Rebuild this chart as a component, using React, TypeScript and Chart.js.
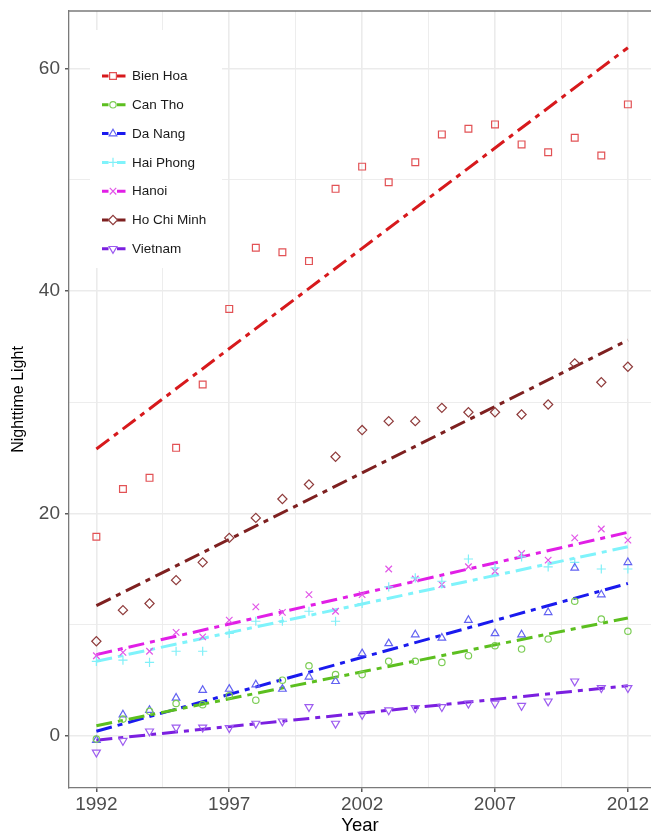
import React, { useEffect, useRef } from 'react';
import { Chart, registerables } from 'chart.js';

Chart.register(...registerables);

// ---------- data ----------
const years = [1992, 1993, 1994, 1995, 1996, 1997, 1998, 1999, 2000, 2001, 2002, 2003, 2004, 2005, 2006, 2007, 2008, 2009, 2010, 2011, 2012];

const bienHoa = [17.9, 22.2, 23.2, 25.9, 31.6, 38.4, 43.9, 43.5, 42.7, 49.2, 51.2, 49.8, 51.6, 54.1, 54.6, 55.0, 53.2, 52.5, 53.8, 52.2, 56.8];
const canTho = [-0.3, 1.5, 2.2, 2.9, 2.8, 3.6, 3.2, 5.0, 6.3, 5.5, 5.5, 6.7, 6.7, 6.6, 7.2, 8.1, 7.8, 8.7, 12.1, 10.5, 9.4];
const daNang = [-0.4, 1.9, 2.3, 3.4, 4.1, 4.2, 4.6, 4.2, 5.3, 4.9, 7.4, 8.3, 9.1, 8.8, 10.4, 9.2, 9.1, 11.1, 15.1, 12.7, 15.6];
const haiPhong = [6.7, 6.8, 6.6, 7.6, 7.6, 9.2, 10.3, 10.3, 11.2, 10.3, 11.9, 13.4, 14.2, 13.9, 15.9, 15.1, 16.1, 15.2, 15.6, 15.0, 15.0];
const hanoi = [7.2, 7.5, 7.6, 9.3, 8.9, 10.4, 11.6, 11.1, 12.7, 11.2, 12.7, 15.0, 14.1, 13.6, 15.2, 14.8, 16.4, 15.8, 17.8, 18.6, 17.6];
const hoChiMinh = [8.5, 11.3, 11.9, 14.0, 15.6, 17.8, 19.6, 21.3, 22.6, 25.1, 27.5, 28.3, 28.3, 29.5, 29.1, 29.1, 28.9, 29.8, 33.5, 31.8, 33.2];
const vietnam = [-1.5, -0.45, 0.4, 0.75, 0.75, 0.7, 1.1, 1.3, 2.6, 1.1, 1.9, 2.3, 2.5, 2.6, 2.9, 2.9, 2.7, 3.1, 4.9, 4.3, 4.3];

const seriesNames = ['Bien Hoa', 'Can Tho', 'Da Nang', 'Hai Phong', 'Hanoi', 'Ho Chi Minh', 'Vietnam'];
const seriesValues = [bienHoa, canTho, daNang, haiPhong, hanoi, hoChiMinh, vietnam];

// fitted trend lines: value at first and last year
const trendYears = [1992, 2012];
const trendStart = [25.8, 0.9, 0.4, 6.7, 7.3, 11.7, -0.4];
const trendEnd = [61.9, 10.6, 13.7, 17.0, 18.3, 35.6, 4.5];

const yMajorTicks = [0, 20, 40, 60];
const yMinorTicks = [10, 30, 50];
const xMajorTicks = [1992, 1997, 2002, 2007, 2012];
const xMinorTicks = [1994.5, 1999.5, 2004.5, 2009.5];

// ---------- styles ----------
const lineColors = ['#d7191c', '#5cbf1f', '#1a1aee', '#7ff3fb', '#e11fe6', '#7e2020', '#7b1fe0'];
const markerColors = ['#e25255', '#7ccd55', '#6262f2', '#80f0f8', '#e257e8', '#8f3b3b', '#9d5cf0'];
const pointStyles = ['rect', 'circle', 'triangle', 'cross', 'crossRot', 'rectRot', 'triangle'];
const pointRotations = [0, 0, 0, 0, 0, 0, 180];
const pointRadii = [4.8, 3.2, 4.4, 4.6, 4.6, 4.6, 4.6];
const FONT = '"Liberation Sans", Arial, Helvetica, sans-serif';

function drawMarker(ctx: CanvasRenderingContext2D, style: string, x: number, y: number, r: number, rotDeg: number) {
  ctx.beginPath();
  switch (style) {
    case 'rect': {
      const s = r * Math.SQRT1_2;
      ctx.rect(x - s, y - s, 2 * s, 2 * s);
      break;
    }
    case 'circle':
      ctx.arc(x, y, r, 0, Math.PI * 2);
      break;
    case 'triangle': {
      let a = (rotDeg * Math.PI) / 180;
      ctx.moveTo(x + Math.sin(a) * r, y - Math.cos(a) * r);
      for (let k = 0; k < 2; k++) {
        a += (2 * Math.PI) / 3;
        ctx.lineTo(x + Math.sin(a) * r, y - Math.cos(a) * r);
      }
      ctx.closePath();
      break;
    }
    case 'cross':
      ctx.moveTo(x, y - r);
      ctx.lineTo(x, y + r);
      ctx.moveTo(x - r, y);
      ctx.lineTo(x + r, y);
      break;
    case 'crossRot': {
      const d = r * Math.SQRT1_2;
      ctx.moveTo(x - d, y - d);
      ctx.lineTo(x + d, y + d);
      ctx.moveTo(x - d, y + d);
      ctx.lineTo(x + d, y - d);
      break;
    }
    case 'rectRot':
      ctx.moveTo(x - r, y);
      ctx.lineTo(x, y - r);
      ctx.lineTo(x + r, y);
      ctx.lineTo(x, y + r);
      ctx.closePath();
      break;
  }
  ctx.stroke();
}

const frameAndLegendPlugin = {
  id: 'frameAndLegend',
  afterDraw(chart: any) {
    const ctx: CanvasRenderingContext2D = chart.ctx;
    const area = chart.chartArea;
    ctx.save();
    // top border of panel
    ctx.strokeStyle = '#7a7a7a';
    ctx.lineWidth = 1.3;
    ctx.beginPath();
    ctx.moveTo(area.left, area.top);
    ctx.lineTo(area.right, area.top);
    ctx.stroke();

    // inset legend
    const bx = area.left + 21;
    const by = area.top + 19;
    ctx.fillStyle = '#ffffff';
    ctx.fillRect(bx, by, 132, 238);
    seriesNames.forEach((name, i) => {
      const y = area.top + 65 + i * 28.8;
      const lx = area.left + 33;
      ctx.strokeStyle = lineColors[i];
      ctx.lineWidth = 3;
      ctx.beginPath();
      ctx.moveTo(lx, y);
      ctx.lineTo(lx + 6.5, y);
      ctx.moveTo(lx + 15, y);
      ctx.lineTo(lx + 23.5, y);
      ctx.stroke();
      ctx.strokeStyle = markerColors[i];
      ctx.lineWidth = 1.2;
      drawMarker(ctx, pointStyles[i], lx + 11, y, pointRadii[i], pointRotations[i]);
      ctx.fillStyle = '#1a1a1a';
      ctx.font = `13.5px ${FONT}`;
      ctx.textBaseline = 'middle';
      ctx.textAlign = 'left';
      ctx.fillText(name, area.left + 63, y + 0.5);
    });
    ctx.restore();
  },
};

function clearScalePadding(scale: any) {
  scale.paddingTop = 0;
  scale.paddingBottom = 0;
  scale.paddingLeft = 0;
  scale.paddingRight = 0;
}

export default function App() {
  const canvasRef = useRef<HTMLCanvasElement | null>(null);

  useEffect(() => {
    if (!canvasRef.current) return;

    const trendSets = seriesNames.map((name, i) => ({
      type: 'line' as const,
      label: name + ' trend',
      data: trendYears.map((yr, k) => ({ x: yr, y: k === 0 ? trendStart[i] : trendEnd[i] })),
      borderColor: lineColors[i],
      borderWidth: 3,
      borderDash: [16, 6, 5, 6],
      pointRadius: 0,
      showLine: true,
      fill: false,
      order: 2,
    }));

    const pointSets = seriesNames.map((name, i) => ({
      type: 'scatter' as const,
      label: name,
      data: years.map((yr, k) => ({ x: yr, y: seriesValues[i][k] })),
      borderColor: markerColors[i],
      backgroundColor: 'rgba(0,0,0,0)',
      pointStyle: pointStyles[i],
      pointRotation: pointRotations[i],
      pointRadius: pointRadii[i],
      pointBorderWidth: 1.2,
      showLine: false,
      order: 1,
    }));

    const yAll = [...yMajorTicks, ...yMinorTicks].sort((a, b) => a - b);
    const xAll = [...xMajorTicks, ...xMinorTicks].sort((a, b) => a - b);

    const chart = new Chart(canvasRef.current, {
      type: 'scatter',
      data: { datasets: [...trendSets, ...pointSets] as any },
      plugins: [frameAndLegendPlugin],
      options: {
        animation: false,
        responsive: false,
        maintainAspectRatio: false,
        layout: { autoPadding: false, padding: { top: 11, right: 0, bottom: 0, left: 0 } },
        plugins: {
          legend: { display: false },
          tooltip: { enabled: false },
        },
        scales: {
          x: {
            type: 'linear',
            min: 1990.97,
            max: 2012.87,
            afterBuildTicks: (scale: any) => {
              scale.ticks = xAll.map((v) => ({ value: v }));
            },
            afterFit: (scale: any) => {
              scale.height = 49;
              clearScalePadding(scale);
            },
            grid: {
              color: '#ebebeb',
              lineWidth: (c: any) => (xMajorTicks.includes(c.tick?.value) ? 1.6 : 0.9),
              tickColor: (c: any) => (xMajorTicks.includes(c.tick?.value) ? '#333333' : 'rgba(0,0,0,0)'),
              tickLength: 4,
              tickWidth: 1.2,
              drawTicks: true,
            },
            border: { display: true, color: '#7a7a7a', width: 1.3 },
            ticks: {
              autoSkip: false,
              maxRotation: 0,
              padding: 1,
              color: '#4d4d4d',
              font: { family: FONT, size: 19 },
              callback: (v: any) => (xMajorTicks.includes(Number(v)) ? String(v) : ''),
            },
            title: {
              display: true,
              text: 'Year',
              color: '#000000',
              font: { family: FONT, size: 18.5 },
              padding: { top: 0, bottom: 0 },
            },
          },
          y: {
            type: 'linear',
            min: -4.7,
            max: 65.2,
            afterBuildTicks: (scale: any) => {
              scale.ticks = yAll.map((v) => ({ value: v }));
            },
            afterFit: (scale: any) => {
              scale.width = 69;
              clearScalePadding(scale);
            },
            grid: {
              color: '#ebebeb',
              lineWidth: (c: any) => (yMajorTicks.includes(c.tick?.value) ? 1.6 : 0.9),
              tickColor: (c: any) => (yMajorTicks.includes(c.tick?.value) ? '#333333' : 'rgba(0,0,0,0)'),
              tickLength: 4,
              tickWidth: 1.2,
              drawTicks: true,
            },
            border: { display: true, color: '#7a7a7a', width: 1.3 },
            ticks: {
              autoSkip: false,
              padding: 5,
              color: '#4d4d4d',
              font: { family: FONT, size: 19 },
              callback: (v: any) => (yMajorTicks.includes(Number(v)) ? String(v) : ''),
            },
            title: {
              display: true,
              text: 'Nighttime Light',
              color: '#000000',
              font: { family: FONT, size: 16 },
              padding: { top: 9, bottom: 0 },
            },
          },
        },
      } as any,
    });

    return () => {
      chart.destroy();
    };
  }, []);

  return (
    <div style={{ position: 'fixed', left: 0, top: 0, width: 651, height: 837, background: '#ffffff', overflow: 'hidden' }}>
      <canvas ref={canvasRef} width={651} height={837} style={{ display: 'block', width: 651, height: 837 }} />
    </div>
  );
}
